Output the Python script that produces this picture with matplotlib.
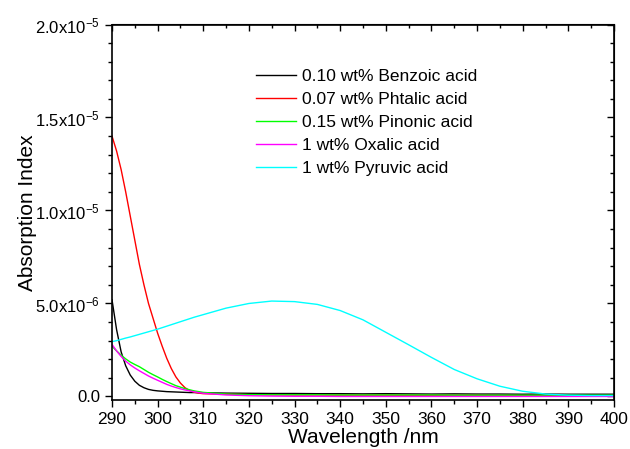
import matplotlib
matplotlib.use("Agg")
import matplotlib.pyplot as plt
from matplotlib.ticker import MultipleLocator

plt.rcParams['font.family'] = ['Liberation Sans', 'DejaVu Sans']
plt.rcParams['mathtext.default'] = 'regular'

# wavelength grid (nm)
wl = list(range(290, 311)) + list(range(315, 401, 5))

# absorption index values, in units of 1e-6
benzoic = [5.2, 3.6, 2.4, 1.65, 1.15, 0.82, 0.6, 0.47, 0.38, 0.33, 0.3,
           0.28, 0.26, 0.25, 0.24, 0.23, 0.22, 0.21, 0.21, 0.2, 0.2,
           0.18, 0.17, 0.16, 0.16, 0.15, 0.15, 0.14, 0.15, 0.14, 0.13,
           0.14, 0.13, 0.13, 0.12, 0.13, 0.12, 0.12, 0.12]
phtalic = [14.0, 13.2, 12.2, 11.0, 9.7, 8.4, 7.1, 6.0, 5.0, 4.2, 3.4,
           2.7, 2.05, 1.5, 1.05, 0.72, 0.47, 0.32, 0.23, 0.18, 0.15,
           0.12, 0.1, 0.09, 0.08, 0.08, 0.07, 0.07, 0.07, 0.06, 0.06,
           0.06, 0.06, 0.05, 0.05, 0.05, 0.05, 0.05, 0.05]
pinonic = [2.7, 2.45, 2.22, 2.02, 1.85, 1.72, 1.6, 1.45, 1.3, 1.17, 1.05,
           0.92, 0.8, 0.69, 0.58, 0.5, 0.42, 0.36, 0.3, 0.26, 0.22,
           0.13, 0.1, 0.09, 0.09, 0.09, 0.08, 0.08, 0.08, 0.08, 0.08,
           0.07, 0.07, 0.07, 0.07, 0.07, 0.07, 0.07, 0.07]
oxalic = [2.8, 2.45, 2.15, 1.9, 1.7, 1.53, 1.38, 1.24, 1.1, 0.98, 0.87,
          0.76, 0.65, 0.56, 0.48, 0.41, 0.35, 0.3, 0.25, 0.21, 0.17,
          0.08, 0.04, 0.02, 0.01, 0.01, 0.0, 0.0, 0.0, 0.0, 0.0,
          0.0, 0.0, 0.0, 0.0, 0.0, 0.0, 0.0, 0.0]
pyruvic = [2.95, 3.0, 3.07, 3.14, 3.2, 3.27, 3.34, 3.41, 3.48, 3.55, 3.62,
           3.7, 3.78, 3.86, 3.94, 4.02, 4.1, 4.18, 4.26, 4.33, 4.4,
           4.75, 5.0, 5.13, 5.1, 4.95, 4.62, 4.12, 3.45, 2.78, 2.1,
           1.45, 0.95, 0.55, 0.28, 0.13, 0.07, 0.05, 0.05]

labels = ["0.10 wt% Benzoic acid", "0.07 wt% Phtalic acid",
          "0.15 wt% Pinonic acid", "1 wt% Oxalic acid", "1 wt% Pyruvic acid"]
colors = ["#000000", "#ff0000", "#00ff00", "#ff00ff", "#00ffff"]

ytick_vals = [0, 5e-6, 1e-5, 1.5e-5, 2e-5]
ytick_labels = ["0.0", "5.0x10$^{-6}$", "1.0x10$^{-5}$",
                "1.5x10$^{-5}$", "2.0x10$^{-5}$"]

fig = plt.figure(figsize=(6.3, 4.49), dpi=100)
ax = fig.add_axes([112 / 630, 1 - 400 / 449, 502 / 630, 375.5 / 449])

for ys, lab, c in zip([benzoic, phtalic, pinonic, oxalic, pyruvic], labels, colors):
    ax.plot(wl, [v * 1e-6 for v in ys], color=c, lw=1.0, label=lab)

ax.set_xlim(290, 400)
ax.set_ylim(-0.19e-6, 2e-5)
ax.xaxis.set_major_locator(MultipleLocator(10))
ax.xaxis.set_minor_locator(MultipleLocator(5))
ax.set_yticks(ytick_vals)
ax.set_yticklabels(ytick_labels)
ax.yaxis.set_minor_locator(MultipleLocator(1e-6))
ax.tick_params(which='major', direction='out', length=5, width=1, labelsize=12.5)
ax.tick_params(axis='y', labelsize=12)
ax.tick_params(which='minor', direction='out', length=3, width=1)
for s in ax.spines.values():
    s.set_linewidth(1.2)

# mirrored inward ticks on top and right
top = ax.secondary_xaxis('top')
top.xaxis.set_major_locator(MultipleLocator(10))
top.xaxis.set_minor_locator(MultipleLocator(5))
top.tick_params(which='major', direction='in', length=5, width=1, labeltop=False)
top.tick_params(which='minor', direction='in', length=3, width=1)
right = ax.secondary_yaxis('right')
right.set_yticks(ytick_vals)
right.yaxis.set_minor_locator(MultipleLocator(1e-6))
right.tick_params(which='major', direction='in', length=5, width=1, labelright=False)
right.tick_params(which='minor', direction='in', length=3, width=1)

ax.set_xlabel("Wavelength /nm", fontsize=15, labelpad=1)
ax.set_ylabel("Absorption Index", fontsize=15, labelpad=-1)

ax.legend(loc='upper left', bbox_to_anchor=(256 / 630, 1 - 69 / 449),
          bbox_transform=fig.transFigure, frameon=False, fontsize=12.5,
          borderpad=0, borderaxespad=0, handlelength=2.3, handletextpad=0.35,
          labelspacing=0.45)

fig.savefig("out.png", dpi=100)
